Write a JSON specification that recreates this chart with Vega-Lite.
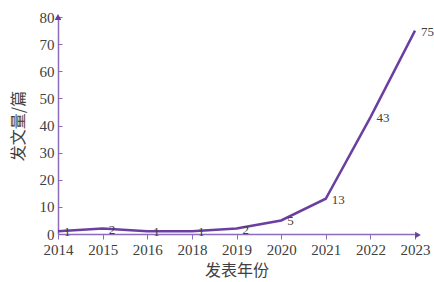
{
  "$schema": "https://vega.github.io/schema/vega-lite/v6.json",
  "width": 357,
  "height": 217,
  "autosize": {"type": "none"},
  "padding": {"left": 58, "top": 17, "right": 19, "bottom": 48},
  "background": "white",
  "config": {
    "view": {"stroke": null},
    "axis": {"labelFont": "Liberation Serif", "labelFontSize": 15, "labelColor": "#404040", "titleFont": "Noto Sans CJK SC", "titleFontSize": 16, "titleFontWeight": "normal", "titleColor": "#404040", "domainColor": "#8a6bbd", "tickColor": "#8a6bbd", "grid": false, "domainWidth": 1.5}
  },
  "data": {"values": [
    {"year": "2014", "count": 1},
    {"year": "2015", "count": 2},
    {"year": "2016", "count": 1},
    {"year": "2018", "count": 1},
    {"year": "2019", "count": 2},
    {"year": "2020", "count": 5},
    {"year": "2021", "count": 13},
    {"year": "2022", "count": 43},
    {"year": "2023", "count": 75}
  ]},
  "encoding": {
    "x": {"field": "year", "type": "ordinal", "scale": {"type": "point", "padding": 0},
      "axis": {"title": "发表年份", "labelAngle": 0, "tickSize": 5, "labelPadding": 3, "titleY": 28}},
    "y": {"field": "count", "type": "quantitative", "scale": {"domain": [0, 80], "nice": false},
      "axis": {"title": "发文量/篇", "values": [0,10,20,30,40,50,60,70,80], "tickSize": -4, "labelPadding": 8, "titleX": -32}}
  },
  "layer": [
    {"mark": {"type": "line", "color": "#6a3fa0", "strokeWidth": 2.5}},
    {"mark": {"type": "text", "align": "left", "baseline": "middle", "dx": 6, "dy": 1, "font": "Liberation Serif", "fontSize": 13, "color": "#404040"},
      "encoding": {"text": {"field": "count", "type": "quantitative"}}},
    {"data": {"values": [{"year": "2014", "count": 80}]},
      "mark": {"type": "point", "shape": "triangle-up", "filled": true, "color": "#6a3fa0", "size": 45, "opacity": 1}},
    {"data": {"values": [{"year": "2023", "count": 0}]},
      "mark": {"type": "point", "shape": "triangle-right", "filled": true, "color": "#6a3fa0", "size": 45, "opacity": 1, "xOffset": 3, "yOffset": 1}}
  ]
}
